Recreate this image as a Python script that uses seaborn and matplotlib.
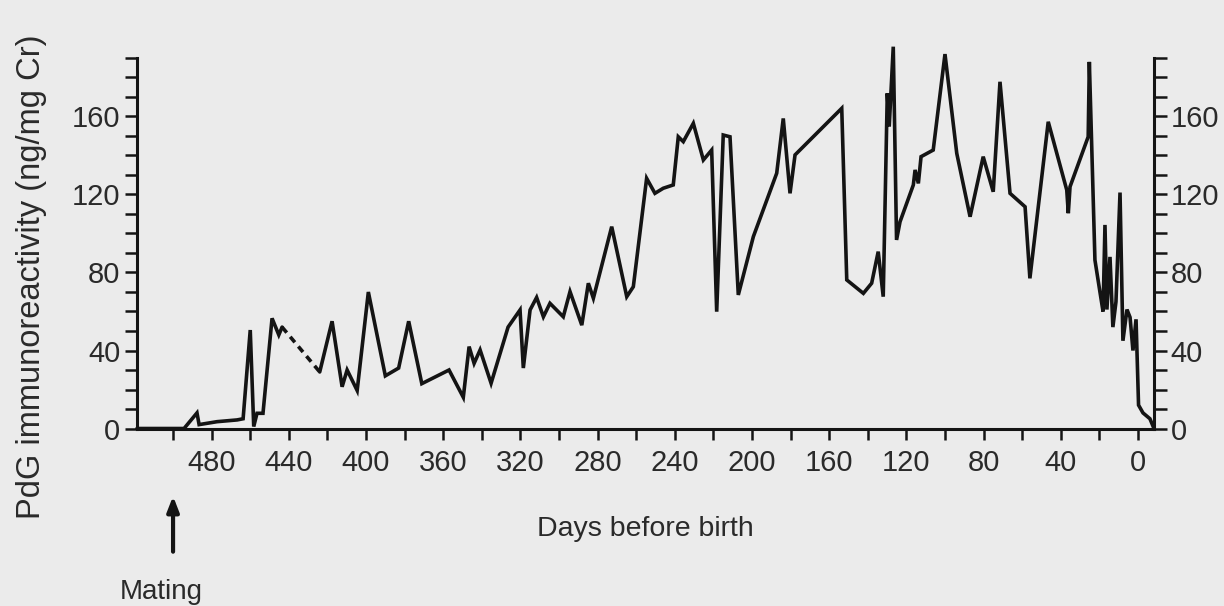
import matplotlib
matplotlib.use("Agg")
import matplotlib.pyplot as plt
import seaborn as sns
import pandas as pd
from matplotlib.ticker import MultipleLocator

# ---- data (days before birth, PdG ng/mg Cr) ----
days_early = [518.7, 494.3, 487.6, 486.5, 477.2, 466.8, 463.7, 460.0, 458.2,
              456.5, 453.4, 448.7, 445.2, 443.5]
pdg_early = [0, 0, 8, 2, 3.5, 4.4, 5, 50.5, 1,
             7.8, 7.8, 56.5, 48, 52]

days_gap = [443.5, 424.0]          # missing samples (dashed)
pdg_gap = [52, 29]

days_late = [424.0, 417.6, 412.4, 409.8, 404.6, 398.8, 390.0, 383.1, 377.9,
             371.1, 357.0, 349.6, 346.6, 344.0, 340.9, 335.2, 326.4, 320.2,
             318.5, 315.0, 311.6, 308.1, 304.7, 297.8, 294.3, 288.2, 284.8,
             282.2, 272.7, 264.9, 261.5, 258.0, 254.6, 250.3, 246.0, 240.8,
             238.2, 235.6, 230.4, 225.2, 220.9, 218.3, 214.9, 211.4, 207.1,
             199.3, 187.2, 183.8, 180.3, 177.7, 153.5, 150.9, 142.3, 138.0,
             134.6, 132.0, 129.9, 128.9, 126.8, 125.1, 123.3, 116.4, 115.5,
             113.8, 112.4, 106.1, 100.0, 93.9, 87.0, 80.2, 75.0, 71.5, 66.3,
             58.5, 56.0, 46.5, 36.9, 36.1, 35.2, 25.8, 25.2, 22.3, 19.7, 18.1,
             17.1, 16.1, 14.5, 13.0, 11.4, 9.3, 7.8, 5.7, 4.1, 2.6, 1.0, -0.3,
             -2.6, -6.2, -8.3]
pdg_late = [29, 55, 21.4, 30, 19.5, 70, 27, 31, 55,
            23, 30, 16, 42, 33.4, 40.3, 23.2, 52, 60.8,
            31, 60.8, 67.2, 57.3, 64.2, 57.3, 70.2, 53, 74.5,
            66.8, 103.5, 67.6, 72.7, 100.9, 128.3, 120.6, 123.2, 124.9,
            149.6, 147.1, 156.5, 137.7, 142.8, 59.9, 150.5, 149.6, 68.5,
            98.4, 130.9, 159, 120.6, 140.3, 164.2, 76.2, 69.3, 74.5,
            90.7, 67.6, 171.9, 154.8, 195.8, 96.7, 106, 124.9, 132.6,
            125.7, 139.4, 142.8, 192, 141.1, 108.6, 139.4, 121.4, 177.8, 120.6,
            113.7, 77, 157.3, 122.3, 110.4, 124, 149.6, 188, 86.4, 70, 60,
            104.4, 61, 88, 52, 65, 121, 45, 61, 57, 40, 56, 12,
            8, 5, 0]

x_major = [480, 440, 400, 360, 320, 280, 240, 200, 160, 120, 80, 40, 0]
y_major = [0, 40, 80, 120, 160]
mating_day = 500

# ---- style ----
sns.set_style("ticks")
plt.rcParams["font.family"] = ["Liberation Sans", "DejaVu Sans"]
bg = "#ebebeb"
ink = "#141414"
txt = "#2a2a2a"

fig = plt.figure(figsize=(12.24, 6.06), dpi=100, facecolor=bg)
ax = fig.add_axes([0.1119, 0.2929, 0.8309, 0.6114])
ax.set_facecolor(bg)

df_a = pd.DataFrame({"day": days_early, "pdg": pdg_early})
df_g = pd.DataFrame({"day": days_gap, "pdg": pdg_gap})
df_b = pd.DataFrame({"day": days_late, "pdg": pdg_late})

kw = dict(x="day", y="pdg", sort=False, estimator=None, color=ink,
          linewidth=2.6, ax=ax, legend=False)
sns.lineplot(data=df_a, **kw)
sns.lineplot(data=df_g, linestyle=(0, (2.0, 1.5)), **kw)
sns.lineplot(data=df_b, **kw)
for ln in ax.lines:
    ln.set_clip_on(False)
    ln.set_solid_joinstyle("miter")

ax.set_xlim(518.7, -8.3)
ax.set_ylim(0, 190)

ax.set_xticks(x_major)
ax.set_xticklabels([str(v) for v in x_major])
ax.xaxis.set_minor_locator(MultipleLocator(20))
ax.set_yticks(y_major)
ax.set_yticklabels([str(v) for v in y_major])
ax.yaxis.set_minor_locator(MultipleLocator(10))

for s in ["left", "right", "bottom"]:
    ax.spines[s].set_linewidth(2.2)
    ax.spines[s].set_color(ink)
    ax.spines[s].set_visible(True)
ax.spines["top"].set_visible(False)

ax.tick_params(axis="both", which="both", direction="out", color=ink,
               width=1.8, labelsize=21, labelcolor=txt)
ax.tick_params(axis="y", which="both", length=9, left=True, right=True,
               labelleft=True, labelright=True, pad=3)
ax.tick_params(axis="x", which="both", length=8, bottom=True, top=False, pad=7)

ax.set_xlabel("Days before birth", fontsize=20.5, color=txt, labelpad=28)
ax.set_ylabel("PdG immunoreactivity (ng/mg Cr)", fontsize=23.5, color=txt)
ax.yaxis.set_label_coords(-0.088, 0.41)

# Mating arrow
trans = ax.get_xaxis_transform()
ax.annotate("", xy=(mating_day, -0.175), xytext=(mating_day, -0.34),
            xycoords=trans, textcoords=trans,
            arrowprops=dict(arrowstyle="-|>,head_width=0.35,head_length=0.9",
                            color=ink, lw=3), annotation_clip=False)
ax.text(506, -0.44, "Mating", transform=trans, ha="center", va="center",
        fontsize=20, color=txt, clip_on=False)

fig.savefig("out.png", dpi=100, facecolor=bg)
